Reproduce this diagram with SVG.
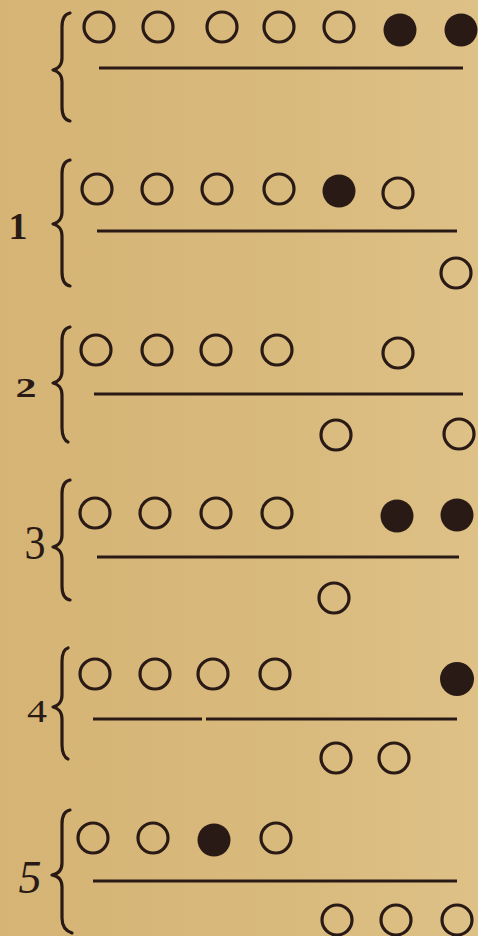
<svg xmlns="http://www.w3.org/2000/svg" width="478" height="936" viewBox="0 0 478 936">
<defs>
<linearGradient id="bg" x1="0" y1="0" x2="1" y2="0">
<stop offset="0" stop-color="#D5B475"/>
<stop offset="0.6" stop-color="#D9BA7D"/>
<stop offset="1" stop-color="#DEC187"/>
</linearGradient>
<style>
.o{fill:none;stroke:#2A1A16;stroke-width:3.2}
.f{fill:#2A1A16}
.ln{stroke:#2A1A16;stroke-width:3;fill:none}
.br{stroke:#2A1A16;stroke-width:3.2;fill:none;stroke-linecap:round;stroke-linejoin:round}
.lbl{font-family:"Liberation Serif","DejaVu Serif",serif;fill:#2A1A16;text-anchor:middle}
</style>
</defs>
<rect x="0" y="0" width="478" height="936" fill="url(#bg)"/>

<g id="row0">
<path class="br" d="M70,13 C65,14 62,19 62,27 L62,58 C62,65 58,69 53,70 C58,71 62,75 62,82 L62,107 C62,115 65,120 70,121"/>
<circle class="o" cx="99" cy="27" r="15"/>
<circle class="o" cx="158" cy="27" r="15"/>
<circle class="o" cx="222" cy="27" r="15"/>
<circle class="o" cx="279" cy="27" r="15"/>
<circle class="o" cx="339" cy="27" r="15"/>
<circle class="f" cx="400" cy="30" r="16.5"/>
<circle class="f" cx="461" cy="30" r="16.5"/>
<line class="ln" x1="99" y1="68" x2="463" y2="68"/>
</g>

<g id="row1">
<text class="lbl" x="18" y="239" font-size="38" font-weight="bold">1</text>
<path class="br" d="M70,160 C65,161 62,166 62,174 L62,212 C62,219 58,223 53,224 C58,225 62,229 62,236 L62,272 C62,280 65,285 70,286"/>
<circle class="o" cx="97" cy="189" r="15"/>
<circle class="o" cx="157" cy="189" r="15"/>
<circle class="o" cx="217" cy="189" r="15"/>
<circle class="o" cx="279" cy="189" r="15"/>
<circle class="f" cx="339" cy="191" r="16.5"/>
<circle class="o" cx="398" cy="193" r="15"/>
<line class="ln" x1="97" y1="231" x2="457" y2="231"/>
<circle class="o" cx="456" cy="273" r="15"/>
</g>

<g id="row2">
<text class="lbl" x="26" y="397" font-size="28" font-weight="bold" textLength="21" lengthAdjust="spacingAndGlyphs">2</text>
<path class="br" d="M70,327 C65,328 62,333 62,341 L62,371 C62,378 58,382 53,383 C58,384 62,388 62,395 L62,428 C62,436 65,441 68,442"/>
<circle class="o" cx="96" cy="350" r="15"/>
<circle class="o" cx="157" cy="350" r="15"/>
<circle class="o" cx="216" cy="350" r="15"/>
<circle class="o" cx="277" cy="350" r="15"/>
<circle class="o" cx="398" cy="353" r="15"/>
<line class="ln" x1="94" y1="394" x2="463" y2="394"/>
<circle class="o" cx="336" cy="435" r="15"/>
<circle class="o" cx="459" cy="434" r="15"/>
</g>

<g id="row3">
<text class="lbl" x="35" y="559" font-size="48" textLength="21" lengthAdjust="spacingAndGlyphs">3</text>
<path class="br" d="M70,480 C65,481 62,486 62,494 L62,535 C62,542 58,546 53,547 C58,548 62,552 62,559 L62,586 C62,594 65,599 70,600"/>
<circle class="o" cx="95" cy="513" r="15"/>
<circle class="o" cx="155" cy="513" r="15"/>
<circle class="o" cx="216" cy="513" r="15"/>
<circle class="o" cx="277" cy="513" r="15"/>
<circle class="f" cx="397" cy="516" r="16.5"/>
<circle class="f" cx="457" cy="515" r="16.5"/>
<line class="ln" x1="97" y1="557" x2="459" y2="557"/>
<circle class="o" cx="334" cy="598" r="15"/>
</g>

<g id="row4">
<text class="lbl" x="37" y="722" font-size="32" textLength="20" lengthAdjust="spacingAndGlyphs">4</text>
<path class="br" d="M68,648 C64,649 62,654 62,662 L62,695 C62,702 58,706 53,707 C58,708 62,712 62,719 L62,745 C62,753 65,758 68,759"/>
<circle class="o" cx="95" cy="674" r="15"/>
<circle class="o" cx="155" cy="674" r="15"/>
<circle class="o" cx="213" cy="674" r="15"/>
<circle class="o" cx="275" cy="674" r="15"/>
<circle class="f" cx="457" cy="679" r="17"/>
<line class="ln" x1="93" y1="719" x2="202" y2="719"/>
<line class="ln" x1="206" y1="719" x2="457" y2="719"/>
<circle class="o" cx="336" cy="758" r="15"/>
<circle class="o" cx="394" cy="758" r="15"/>
</g>

<g id="row5">
<text class="lbl" x="30" y="893" font-size="46" font-style="italic">5</text>
<path class="br" d="M70,810 C65,811 62,816 62,824 L62,863 C62,870 58,874 52,875 C58,876 62,880 62,887 L62,918 C62,926 66,931 72,933"/>
<circle class="o" cx="93" cy="838" r="15"/>
<circle class="o" cx="153" cy="838" r="15"/>
<circle class="f" cx="214" cy="840" r="16.5"/>
<circle class="o" cx="276" cy="838" r="15"/>
<line class="ln" x1="93" y1="881" x2="457" y2="881"/>
<circle class="o" cx="337" cy="920" r="15"/>
<circle class="o" cx="396" cy="920" r="15"/>
<circle class="o" cx="457" cy="920" r="15"/>
</g>
</svg>
